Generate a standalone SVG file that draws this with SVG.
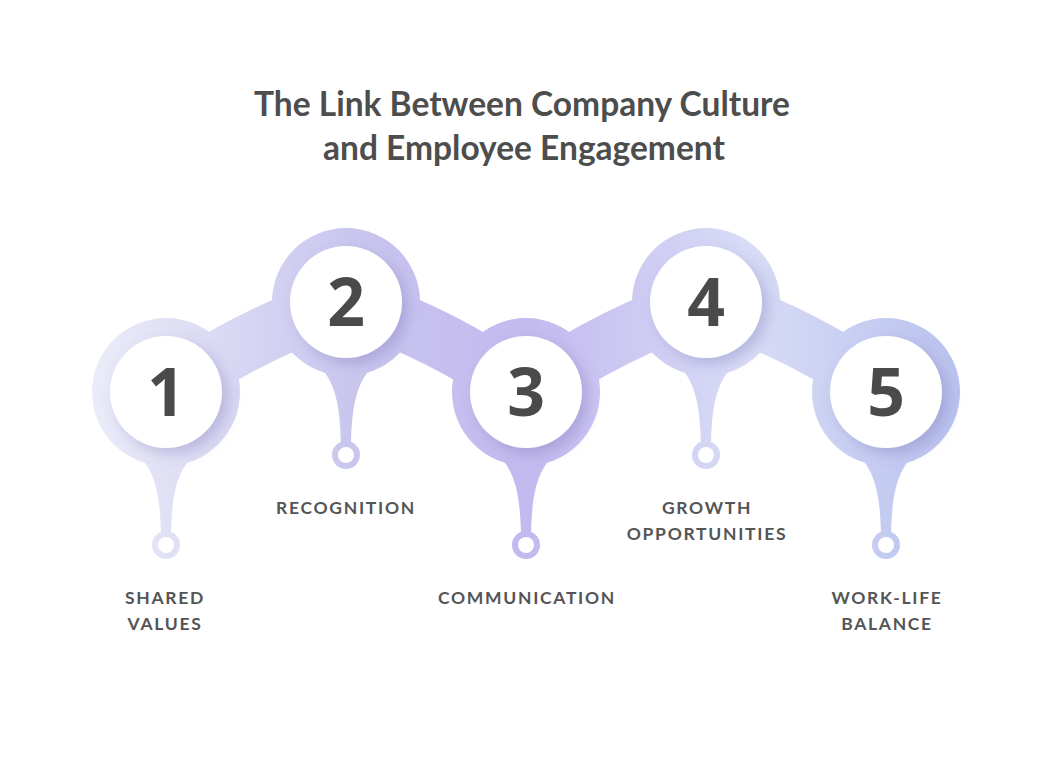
<svg xmlns="http://www.w3.org/2000/svg" width="1054" height="768" viewBox="0 0 1054 768">
<defs>
<linearGradient id="g" gradientUnits="userSpaceOnUse" x1="90" y1="0" x2="965" y2="0">
<stop offset="0" stop-color="#ebecf9"/><stop offset="0.3" stop-color="#c9c6ee"/><stop offset="0.5" stop-color="#c3b9ef"/><stop offset="0.75" stop-color="#d8dcf6"/><stop offset="1" stop-color="#b9c1ee"/>
</linearGradient>
<filter id="sh" x="-30%" y="-30%" width="160%" height="160%"><feDropShadow dx="6" dy="6" stdDeviation="7" flood-color="#6a64a8" flood-opacity="0.3"/></filter>
</defs>
<style>
.t{font-family:Lato,"Open Sans",sans-serif;font-weight:700;font-size:33.5px;fill:#4d4d4d;text-anchor:middle}
.n{font-family:"Open Sans",Lato,sans-serif;font-weight:700;font-size:66px;fill:#4a4a4a;text-anchor:middle}
.l{font-family:Lato,"Open Sans",sans-serif;font-weight:700;font-size:17.5px;fill:#555;text-anchor:middle;letter-spacing:1.7px}
.w{fill:#fff}
</style>
<rect width="1054" height="768" fill="#fff"/>
<text class="t" x="522" y="116">The Link Between Company Culture</text>
<text class="t" x="524" y="160">and Employee Engagement</text>
<g id="connectors" fill="none" stroke="url(#g)" stroke-width="56" stroke-linecap="round">
<path d="M166,392 Q256,330 346,302 Q436,330 526,392 Q616,330 706,302 Q796,330 886,392"/>
</g>
<g fill="url(#g)">
<circle cx="166" cy="392" r="74"/><circle cx="346" cy="302" r="74"/><circle cx="526" cy="392" r="74"/><circle cx="706" cy="302" r="74"/><circle cx="886" cy="392" r="74"/>
<path d="M136,452 C156,472 160,495 161,535 L171,535 C172,495 176,472 196,452 Z"/>
<path d="M316,362 C336,382 340,405 341,445 L351,445 C352,405 356,382 376,362 Z"/>
<path d="M496,452 C516,472 520,495 521,535 L531,535 C532,495 536,472 556,452 Z"/>
<path d="M676,362 C696,382 700,405 701,445 L711,445 C712,405 716,382 736,362 Z"/>
<path d="M856,452 C876,472 880,495 881,535 L891,535 C892,495 896,472 916,452 Z"/>
<circle cx="166" cy="545" r="14"/><circle cx="346" cy="455" r="14"/><circle cx="526" cy="545" r="14"/><circle cx="706" cy="455" r="14"/><circle cx="886" cy="545" r="14"/>
</g>
<g class="w"><circle cx="166" cy="545" r="8"/><circle cx="346" cy="455" r="8"/><circle cx="526" cy="545" r="8"/><circle cx="706" cy="455" r="8"/><circle cx="886" cy="545" r="8"/></g>
<g id="n1"><circle class="w" cx="166" cy="392" r="56" filter="url(#sh)"/><text class="n" x="166" y="416">1</text><text class="l" x="165" y="604">SHARED</text><text class="l" x="165" y="630">VALUES</text></g>
<g id="n2"><circle class="w" cx="346" cy="302" r="56" filter="url(#sh)"/><text class="n" x="346" y="326">2</text><text class="l" x="346" y="514">RECOGNITION</text></g>
<g id="n3"><circle class="w" cx="526" cy="392" r="56" filter="url(#sh)"/><text class="n" x="526" y="416">3</text><text class="l" x="527" y="604">COMMUNICATION</text></g>
<g id="n4"><circle class="w" cx="706" cy="302" r="56" filter="url(#sh)"/><text class="n" x="706" y="326">4</text><text class="l" x="707" y="514">GROWTH</text><text class="l" x="707" y="540">OPPORTUNITIES</text></g>
<g id="n5"><circle class="w" cx="886" cy="392" r="56" filter="url(#sh)"/><text class="n" x="886" y="416">5</text><text class="l" x="887" y="604">WORK-LIFE</text><text class="l" x="887" y="630">BALANCE</text></g>
</svg>
